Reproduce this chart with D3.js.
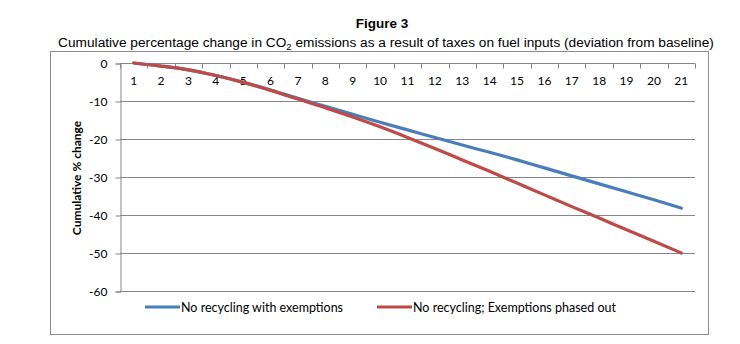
<!DOCTYPE html>
<html>
<head>
<meta charset="utf-8">
<script src="https://cdn.jsdelivr.net/npm/d3@7"></script>
<style>
  body { margin: 0; background: #fff; }
  svg { display: block; }
</style>
</head>
<body>
<svg id="chart" width="740" height="344"></svg>
<script>
// data
const years = d3.range(1, 22);
const withExemptions = [0, -0.8, -1.8, -3.3, -5.1, -7.1, -9.3, -11.4, -13.5, -15.6, -17.6,
  -19.6, -21.6, -23.5, -25.5, -27.6, -29.7, -31.8, -33.9, -36.0, -38.2];
const phasedOut = [0, -0.8, -1.8, -3.3, -5.1, -7.2, -9.5, -11.8, -14.2, -16.8, -19.6,
  -22.5, -25.5, -28.5, -31.6, -34.7, -37.8, -40.8, -43.9, -46.9, -50.0];
const yTicks = [0, -10, -20, -30, -40, -50, -60];
const seriesNames = ["No recycling with exemptions", "No recycling; Exemptions phased out"];
const colors = ["#4a7ebb", "#be4b48"];

const svg = d3.select("#chart");
const plotLeft = 120, plotRight = 695, plotTop = 63, plotBottom = 291;

const x = d3.scaleBand().domain(years).range([plotLeft, plotRight]);
const y = d3.scaleLinear().domain([-60, 0]).range([plotBottom, plotTop]);

// titles
svg.append("text")
  .attr("x", 382).attr("y", 28)
  .attr("text-anchor", "middle")
  .style("font", "bold 13.5px 'Liberation Sans', Arial, sans-serif")
  .text("Figure 3");

const sub = svg.append("text")
  .attr("x", 386).attr("y", 47)
  .attr("text-anchor", "middle")
  .style("font", "13.7px 'Liberation Sans', Arial, sans-serif");
sub.append("tspan").text("Cumulative percentage change in CO");
sub.append("tspan").attr("font-size", "9.5px").attr("dy", 3).text("2");
sub.append("tspan").attr("dy", -3).text(" emissions as a result of taxes on fuel inputs (deviation from baseline)");

// outer chart border
svg.append("rect")
  .attr("x", 50.5).attr("y", 51.5)
  .attr("width", 658).attr("height", 283)
  .attr("fill", "none")
  .attr("stroke", "#8c8c8c");

// gridlines
svg.append("g")
  .selectAll("line")
  .data(yTicks.filter(d => d !== 0))
  .join("line")
  .attr("x1", plotLeft).attr("x2", plotRight)
  .attr("y1", d => Math.round(y(d)) + 0.5)
  .attr("y2", d => Math.round(y(d)) + 0.5)
  .attr("stroke", "#868686");

// y axis
const yAxis = svg.append("g")
  .attr("transform", `translate(${plotLeft + 0.5},0.5)`)
  .call(d3.axisLeft(y).tickValues(yTicks).tickSize(5).tickPadding(8).tickFormat(d => String(d)));
yAxis.selectAll("path, line").attr("stroke", "#868686");
yAxis.selectAll("text")
  .style("font", "12px Lato, 'Open Sans', sans-serif")
  .attr("fill", "#000");

// x axis sits on the zero line, ticks between categories pointing down
const xAxis = svg.append("g").attr("transform", `translate(0,${Math.round(y(0)) + 0.5})`);
xAxis.append("line")
  .attr("x1", plotLeft).attr("x2", plotRight)
  .attr("stroke", "#868686");
xAxis.selectAll("line.tick")
  .data(years.concat([22]))
  .join("line")
  .attr("class", "tick")
  .attr("x1", d => Math.round(d === 22 ? plotRight : x(d)) + 0.5)
  .attr("x2", d => Math.round(d === 22 ? plotRight : x(d)) + 0.5)
  .attr("y1", 0).attr("y2", 5)
  .attr("stroke", "#868686");
xAxis.selectAll("text")
  .data(years)
  .join("text")
  .attr("x", d => x(d) + x.bandwidth() / 2)
  .attr("y", 21)
  .attr("text-anchor", "middle")
  .style("font", "12px Lato, 'Open Sans', sans-serif")
  .text(d => d);

// y axis title
svg.append("text")
  .attr("transform", "translate(81,178) rotate(-90)")
  .attr("text-anchor", "middle")
  .style("font", "bold 12px Lato, 'Open Sans', sans-serif")
  .text("Cumulative % change");

// lines
const line = d3.line()
  .x((d, i) => x(years[i]) + x.bandwidth() / 2)
  .y(d => y(d))
  .curve(d3.curveMonotoneX);

[withExemptions, phasedOut].forEach((vals, i) => {
  svg.append("path")
    .datum(vals)
    .attr("d", line)
    .attr("fill", "none")
    .attr("stroke", colors[i])
    .attr("stroke-width", 3.2)
    .attr("stroke-linecap", "round");
});

// legend
const legendX = [145, 377];
seriesNames.forEach((name, i) => {
  const g = svg.append("g").attr("transform", `translate(${legendX[i]},307)`);
  g.append("line")
    .attr("x1", 0).attr("x2", 35)
    .attr("stroke", colors[i])
    .attr("stroke-width", 3.2);
  g.append("text")
    .attr("x", 36).attr("y", 4.5)
    .style("font", "12.5px Lato, 'Open Sans', sans-serif")
    .text(name);
});
</script>
</body>
</html>
